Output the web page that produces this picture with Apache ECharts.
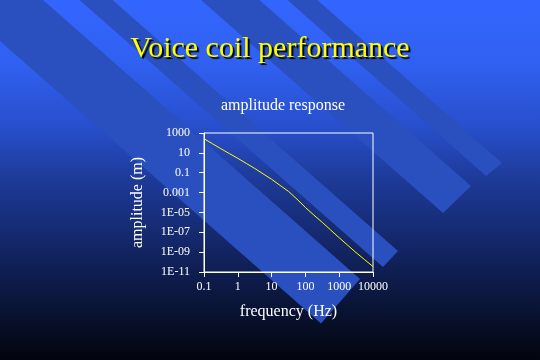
<!DOCTYPE html>
<html>
<head>
<meta charset="utf-8">
<script src="https://cdn.jsdelivr.net/npm/echarts@6/dist/echarts.min.js"></script>
<style>
html,body{margin:0;padding:0;background:#000;}
#chart{width:540px;height:360px;}
</style>
</head>
<body>
<div id="chart"></div>
<script>
// Data
const freqHz = [0.1, 0.178, 0.316, 0.562, 1, 1.78, 3.16, 5.62, 10, 17.8, 31.6, 56.2, 100, 178, 316, 562, 1000, 1780, 3160, 5620, 10000];
const amplitudeM = [263, 83.2, 26.3, 8.51, 2.82, 0.871, 0.269, 0.0759, 0.0219, 0.00525, 0.00132, 2.19e-4, 3.16e-5, 5.37e-6, 1.0e-6, 1.66e-7, 2.82e-8, 5.01e-9, 8.91e-10, 1.78e-10, 3.55e-11];
const xTickLabels = ['0.1', '1', '10', '100', '1000', '10000'];
const yTickLabels = ['1E-11', '1E-09', '1E-07', '1E-05', '0.001', '0.1', '10', '1000'];

const slideTitle = 'Voice coil performance';
const chartTitle = 'amplitude response';
const xName = 'frequency (Hz)';
const yName = 'amplitude (m)';

const serif = '"Liberation Serif", "Times New Roman", serif';
const stripeColor = '#2a4fbf';

const chart = echarts.init(document.getElementById('chart'), null, {renderer: 'canvas'});

function stripe(points) {
  return {type: 'polygon', silent: true, z: -50, shape: {points: points}, style: {fill: stripeColor}};
}

const option = {
  animation: false,
  graphic: {
    elements: [
      {type: 'rect', silent: true, z: -100, shape: {x: 0, y: 0, width: 540, height: 360},
       style: {fill: {type: 'linear', x: 0, y: 0, x2: 0, y2: 1, colorStops: [
         {offset: 0, color: '#3366ff'},
         {offset: 0.18, color: '#3060f0'},
         {offset: 0.35, color: '#284fcc'},
         {offset: 0.5, color: '#1d3a98'},
         {offset: 0.68, color: '#132667'},
         {offset: 0.85, color: '#0a1436'},
         {offset: 1, color: '#02050e'}
       ]}}},
      stripe([[-60, -11.8], [321, 323.5], [360, 279], [-60, -90.6]]),
      stripe([[0, -70], [383, 267], [398, 251], [0, -99]]),
      stripe([[0, -177], [443, 213], [471, 186], [0, -228]]),
      stripe([[0, -255], [486, 176], [502, 163], [0, -280]])
    ]
  },
  title: [
    {text: slideTitle, left: 'center', top: 29,
     textStyle: {fontFamily: serif, fontSize: 30, fontWeight: 'normal', color: '#ffff00',
       textShadowColor: '#000000', textShadowOffsetX: 2, textShadowOffsetY: 2, textShadowBlur: 1}},
    {text: chartTitle, left: 278, top: 93, textAlign: 'center',
     textStyle: {fontFamily: serif, fontSize: 16, fontWeight: 'normal', color: '#ffffff'}}
  ],
  grid: {left: 204, right: 167, top: 133, bottom: 88, show: true, borderColor: '#ffffff', borderWidth: 1, backgroundColor: 'transparent', containLabel: false},
  xAxis: {
    type: 'log', logBase: 10, min: 0.1, max: 10000,
    name: xName, nameLocation: 'middle', nameGap: 32,
    nameTextStyle: {fontFamily: serif, fontSize: 16, color: '#ffffff'},
    axisLine: {show: true, lineStyle: {color: '#ffffff', width: 1}},
    axisTick: {show: true, length: 5, inside: false, lineStyle: {color: '#ffffff'}},
    axisLabel: {color: '#ffffff', fontFamily: serif, fontSize: 12, margin: 9,
      formatter: function (v, i) { return xTickLabels[i]; }},
    splitLine: {show: false}, minorTick: {show: false}
  },
  yAxis: {
    type: 'log', logBase: 10, min: 1e-11, max: 1000, interval: 2,
    name: yName, nameLocation: 'middle', nameGap: 58, nameRotate: 90,
    nameTextStyle: {fontFamily: serif, fontSize: 16, color: '#ffffff'},
    axisLine: {show: true, lineStyle: {color: '#ffffff', width: 1}},
    axisTick: {show: true, length: 5, inside: false, lineStyle: {color: '#ffffff'}},
    axisLabel: {color: '#ffffff', fontFamily: serif, fontSize: 12, margin: 14,
      formatter: function (v, i) { return yTickLabels[i]; }},
    splitLine: {show: false}, minorTick: {show: false}
  },
  series: [{
    type: 'line', showSymbol: false, symbol: 'none', smooth: false,
    lineStyle: {color: '#ffff00', width: 1},
    data: freqHz.map(function (f, i) { return [f, amplitudeM[i]]; })
  }]
};
chart.setOption(option);
</script>
</body>
</html>
